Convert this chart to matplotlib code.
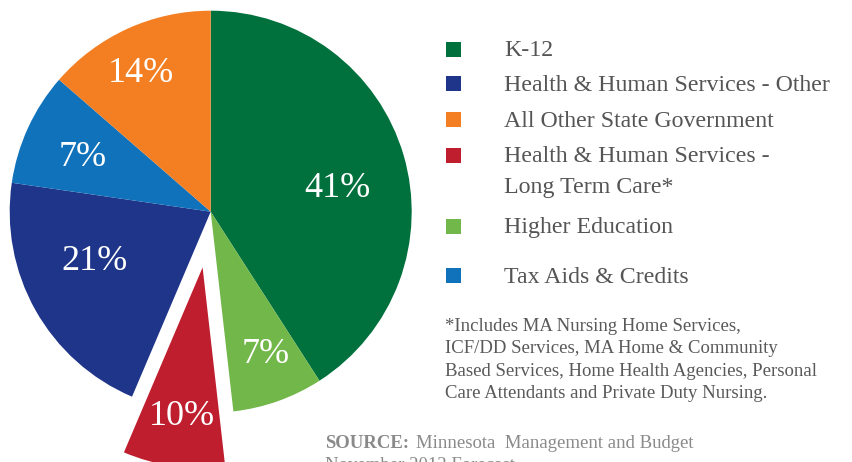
import matplotlib
matplotlib.use("Agg")
import matplotlib.pyplot as plt
import numpy as np
from matplotlib.patches import Rectangle

plt.rcParams['font.family'] = ['Liberation Serif', 'DejaVu Serif']

# pie data, clockwise from 12 o'clock
slices = ['K-12', 'Higher Education', 'Health & Human Services - Long Term Care',
          'Health & Human Services - Other', 'Tax Aids & Credits', 'All Other State Government']
pct_labels = [41, 7, 10, 21, 7, 14]
# wedge sizes as drawn in the picture (angles)
wedge_sizes = [40.9, 7.3, 8.2, 20.9, 9.1, 13.6]
colors = ['#00703C', '#72B74A', '#BE1E2D', '#1F3589', '#1072BA', '#F37F22']
explode = [0, 0, 0.28, 0, 0, 0]

# legend entries (in the order shown on the right)
legend_labels = ['K-12', 'Health & Human Services - Other', 'All Other State Government',
                 'Health & Human Services -\nLong Term Care*', 'Higher Education',
                 'Tax Aids & Credits']
legend_colors = ['#00703C', '#1F3589', '#F37F22', '#BE1E2D', '#72B74A', '#1072BA']

footnote = ("*Includes MA Nursing Home Services,\n"
            "ICF/DD Services, MA Home & Community\n"
            "Based Services, Home Health Agencies, Personal\n"
            "Care Attendants and Private Duty Nursing.")

W, H = 852, 462
fig = plt.figure(figsize=(W / 100, H / 100), dpi=100)
ax = fig.add_axes([0, 0, 1, 1])

R = 201
cx, cy = 210.7, H - 211.7
# explode in pie is in data units, so scale it by the radius
wedges, _ = ax.pie(wedge_sizes, colors=colors, explode=[e * R for e in explode],
                   startangle=90, counterclock=False, radius=R, center=(cx, cy),
                   wedgeprops=dict(linewidth=0))
ax.set_xlim(0, W)
ax.set_ylim(0, H)
ax.set_aspect('equal')
ax.axis('off')

# percentage labels
label_dist = [0.64, 0.76, 0.75, 0.63, 0.69, 0.77]
label_shift = [-5.8, 1.3, 0.3, -6.3, 1.5, 2.1]
for w, v, d, s in zip(wedges, pct_labels, label_dist, label_shift):
    ang = np.deg2rad((w.theta1 + w.theta2) / 2 + s)
    x = w.center[0] + d * R * np.cos(ang)
    y = w.center[1] + d * R * np.sin(ang)
    ax.text(x, y, f'{v}%', color='white', fontsize=26, ha='center', va='center')

# legend
sq_y = [49, 83.5, 119, 155, 226.5, 275]
base_y = [56, 91, 126.7, 161.7, 233, 282.7]
for lab, c, sy, by in zip(legend_labels, legend_colors, sq_y, base_y):
    ax.add_patch(Rectangle((446, H - sy - 7.5), 15, 15, color=c, lw=0))
    for i, line in enumerate(lab.split('\n')):
        ax.text(504, H - by - i * 31.6, line, fontsize=17.2, color='#555555',
                ha='left', va='baseline')

ax.text(445, H - 360, footnote, fontsize=13.5, color='#595959', ha='left',
        va='center', linespacing=1.42)

ax.text(325, H - 443, 'SOURCE:', fontsize=13.5, color='#8a8a8a',
        fontweight='bold', ha='left', va='center')
ax.text(416, H - 443, 'Minnesota  Management and Budget', fontsize=13.5,
        color='#8a8a8a', ha='left', va='center')
ax.text(325, H - 466, 'November 2012 Forecast', fontsize=13.5,
        color='#8a8a8a', ha='left', va='center')

fig.savefig('out.png', dpi=100)
